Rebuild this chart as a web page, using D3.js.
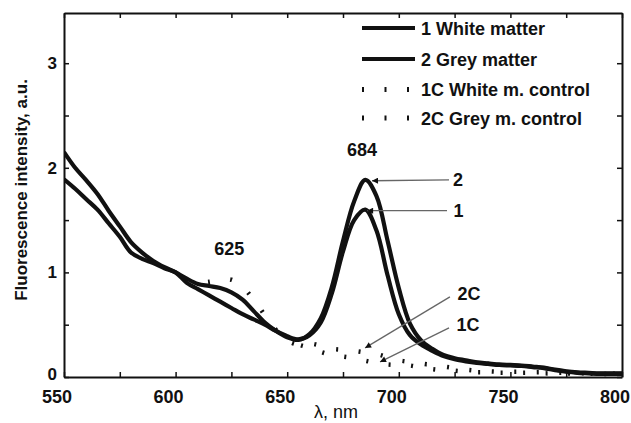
<!DOCTYPE html>
<html>
<head>
<meta charset="utf-8">
<script src="https://cdn.jsdelivr.net/npm/d3@7/dist/d3.min.js"></script>
<style>
  html, body { margin: 0; padding: 0; background: #fff; }
  svg { display: block; font-family: "Liberation Sans", Arial, sans-serif; }
</style>
</head>
<body>
<svg id="chart" width="631" height="423"></svg>
<script>
// ---------------- data ----------------
const wavelengths = d3.range(550, 801, 5);

const greyMatter = [
  2.15, 2.00, 1.88, 1.75, 1.59, 1.44, 1.29, 1.19, 1.11, 1.05,
  1.00, 0.94, 0.89, 0.87, 0.85, 0.81, 0.74, 0.63, 0.52, 0.44,
  0.38, 0.355, 0.41, 0.56, 0.86, 1.30, 1.68, 1.885, 1.73, 1.30,
  0.85, 0.51, 0.35, 0.27, 0.21, 0.18, 0.16, 0.14, 0.13, 0.12,
  0.115, 0.11, 0.10, 0.09, 0.07, 0.055, 0.045, 0.04, 0.035, 0.035, 0.035
];
const whiteMatter = [
  1.89, 1.80, 1.70, 1.60, 1.47, 1.34, 1.19, 1.13, 1.09, 1.04,
  1.00, 0.90, 0.84, 0.78, 0.72, 0.66, 0.60, 0.55, 0.50, 0.44,
  0.39, 0.36, 0.40, 0.52, 0.80, 1.20, 1.50, 1.60, 1.40, 0.97,
  0.60, 0.40, 0.31, 0.25, 0.20, 0.17, 0.15, 0.135, 0.125, 0.115,
  0.11, 0.105, 0.095, 0.085, 0.065, 0.05, 0.04, 0.035, 0.03, 0.03, 0.03
];
// controls: hidden under the solid curves where null
const greyControl = [
  null, null, null, null, null, null, null, null, null, null,
  null, null, 0.90, 0.91, 0.93, 0.93, 0.86, 0.74, 0.59, 0.45,
  0.35, 0.31, 0.32, 0.30, 0.27, 0.26, 0.25, 0.235, 0.22, 0.19,
  0.16, 0.145, 0.13, 0.115, 0.10, 0.085, 0.07, 0.06, 0.055, 0.05,
  0.05, 0.05, 0.045, 0.045, 0.04, 0.04, 0.035, 0.035, 0.03, 0.03, 0.03
];
const whiteControl = [
  null, null, null, null, null, null, null, null, null, null,
  null, null, null, null, null, null, null, null, null, null,
  0.36, 0.31, 0.28, 0.24, 0.21, 0.195, 0.18, 0.155, 0.135, 0.12,
  0.115, 0.11, 0.09, 0.075, 0.065, 0.06, 0.05, 0.045, 0.045, 0.04,
  0.04, 0.04, 0.04, 0.035, 0.035, 0.035, 0.03, 0.03, 0.03, 0.03, 0.03
];

const seriesNames = ["1 White matter", "2 Grey matter", "1C White m. control", "2C Grey m. control"];
const xTicks = [550, 600, 650, 700, 750, 800];
const yTicks = [0, 1, 2, 3];
const xLabel = "λ, nm";
const yLabel = "Fluorescence intensity, a.u.";

// annotations in data units
const peakLabels = [
  { text: "684", x: 683.5, y: 2.11 },
  { text: "625", x: 624, y: 1.165 }
];
const arrows = [
  { text: "2",  lx: 726.5, ly: 1.885, x1: 722.5, y1: 1.885, x2: 688.0, y2: 1.876 },
  { text: "1",  lx: 726.8, ly: 1.59,  x1: 721.6, y1: 1.59,  x2: 685.8, y2: 1.59 },
  { text: "2C", lx: 731.5, ly: 0.80,  x1: 722.9, y1: 0.766, x2: 684.9, y2: 0.278 },
  { text: "1C", lx: 731.0, ly: 0.50,  x1: 722.5, y1: 0.469, x2: 691.6, y2: 0.144 }
];

// ---------------- layout ----------------
const W = 631, H = 423;
const m = { left: 64, top: 13, right: 9, bottom: 46 };
const svg = d3.select("#chart");

const x = d3.scaleLinear().domain([550, 800]).range([m.left, W - m.right]);
const y = d3.scaleLinear().domain([0, 3.48]).range([H - m.bottom, m.top]);

const defs = svg.append("defs");
defs.append("marker")
  .attr("id", "arrowhead")
  .attr("viewBox", "0 0 10 10")
  .attr("refX", 10).attr("refY", 5)
  .attr("markerWidth", 8).attr("markerHeight", 6)
  .attr("markerUnits", "userSpaceOnUse")
  .attr("orient", "auto")
  .append("path").attr("d", "M0,0 L10,5 L0,10 Z").attr("fill", "#111");

defs.append("clipPath").attr("id", "plotclip")
  .append("rect")
  .attr("x", m.left).attr("y", m.top)
  .attr("width", W - m.left - m.right).attr("height", H - m.top - m.bottom);

const line = d3.line()
  .defined(d => d != null)
  .x((d, i) => x(wavelengths[i]))
  .y(d => y(d))
  .curve(d3.curveCatmullRom.alpha(0.5));

const plot = svg.append("g").attr("clip-path", "url(#plotclip)");

// controls first (under)
[[greyControl, -10], [whiteControl, -15]].forEach(([s, off]) => {
  plot.append("path")
    .attr("d", line(s))
    .attr("fill", "none")
    .attr("stroke", "#111")
    .attr("stroke-width", 4.5)
    .attr("stroke-dasharray", "2,20.5")
    .attr("stroke-dashoffset", off);
});

[whiteMatter, greyMatter].forEach(s => {
  plot.append("path")
    .attr("d", line(s))
    .attr("fill", "none")
    .attr("stroke", "#111")
    .attr("stroke-width", 4.2)
    .attr("stroke-linejoin", "round");
});

// ---------------- axes ----------------
const axisG = svg.append("g");
const minorX = d3.range(550, 801, 25);
const minorY = d3.range(0, 3.01, 0.5);

axisG.append("g")
  .attr("transform", `translate(0,${H - m.bottom})`)
  .call(d3.axisBottom(x).tickValues(minorX).tickSizeInner(-5).tickSizeOuter(0).tickFormat(""));
axisG.append("g")
  .attr("transform", `translate(0,${m.top})`)
  .call(d3.axisTop(x).tickValues(minorX).tickSizeInner(-5).tickSizeOuter(0).tickFormat(""));
axisG.append("g")
  .attr("transform", `translate(${m.left},0)`)
  .call(d3.axisLeft(y).tickValues(minorY).tickSizeInner(-5).tickSizeOuter(0).tickFormat(""));
axisG.append("g")
  .attr("transform", `translate(${W - m.right},0)`)
  .call(d3.axisRight(y).tickValues(minorY).tickSizeInner(-5).tickSizeOuter(0).tickFormat(""));

axisG.selectAll(".domain").attr("stroke", "#111").attr("stroke-width", 2);
axisG.selectAll(".tick line").attr("stroke", "#111").attr("stroke-width", 1.5);

// tick labels
svg.append("g").selectAll("text").data(xTicks).join("text")
  .attr("x", d => x(d) - 7)
  .attr("y", H - m.bottom + 26)
  .attr("text-anchor", "middle")
  .style("font", "bold 18px 'Liberation Sans', Arial, sans-serif")
  .attr("fill", "#111")
  .text(d => d);

svg.append("g").selectAll("text").data(yTicks).join("text")
  .attr("x", m.left - 7)
  .attr("y", d => y(d) + (d === 0 ? 3 : 6))
  .attr("text-anchor", "end")
  .style("font", "bold 17px 'Liberation Sans', Arial, sans-serif")
  .attr("fill", "#111")
  .text(d => d);

svg.append("text")
  .attr("x", (m.left + W - m.right) / 2 - 7)
  .attr("y", H - 5)
  .attr("text-anchor", "middle")
  .style("font", "18px 'Liberation Sans', Arial, sans-serif")
  .attr("fill", "#111")
  .text(xLabel);

svg.append("text")
  .attr("transform", `translate(27,190) rotate(-90)`)
  .attr("text-anchor", "middle")
  .style("font", "bold 17px 'Liberation Sans', Arial, sans-serif")
  .attr("fill", "#111")
  .text(yLabel);

// ---------------- legend ----------------
const lg = svg.append("g");
const legRows = [
  { name: seriesNames[0], dotted: false, yy: 28 },
  { name: seriesNames[1], dotted: false, yy: 59 },
  { name: seriesNames[2], dotted: true,  yy: 89.5 },
  { name: seriesNames[3], dotted: true,  yy: 118 }
];
legRows.forEach(r => {
  const l = lg.append("line")
    .attr("x1", 362).attr("x2", r.dotted ? 410 : 415)
    .attr("y1", r.yy).attr("y2", r.yy)
    .attr("stroke", "#111");
  if (r.dotted) {
    l.attr("stroke-width", 5).attr("stroke-dasharray", "2,20.5");
  } else {
    l.attr("stroke-width", 4);
  }
  lg.append("text")
    .attr("x", 421).attr("y", r.yy + 6.5)
    .style("font", "bold 18px 'Liberation Sans', Arial, sans-serif")
    .attr("fill", "#111")
    .text(r.name);
});

// ---------------- annotations ----------------
svg.append("g").selectAll("text").data(peakLabels).join("text")
  .attr("x", d => x(d.x)).attr("y", d => y(d.y))
  .attr("text-anchor", "middle")
  .style("font", "bold 18px 'Liberation Sans', Arial, sans-serif")
  .attr("fill", "#111")
  .text(d => d.text);

const ag = svg.append("g");
arrows.forEach(a => {
  ag.append("line")
    .attr("x1", x(a.x1)).attr("y1", y(a.y1))
    .attr("x2", x(a.x2)).attr("y2", y(a.y2))
    .attr("stroke", "#666").attr("stroke-width", 1.3)
    .attr("marker-end", "url(#arrowhead)");
  ag.append("text")
    .attr("x", x(a.lx)).attr("y", y(a.ly) + 6.5)
    .attr("text-anchor", "middle")
    .style("font", "bold 18px 'Liberation Sans', Arial, sans-serif")
    .attr("fill", "#111")
    .text(a.text);
});
</script>
</body>
</html>
